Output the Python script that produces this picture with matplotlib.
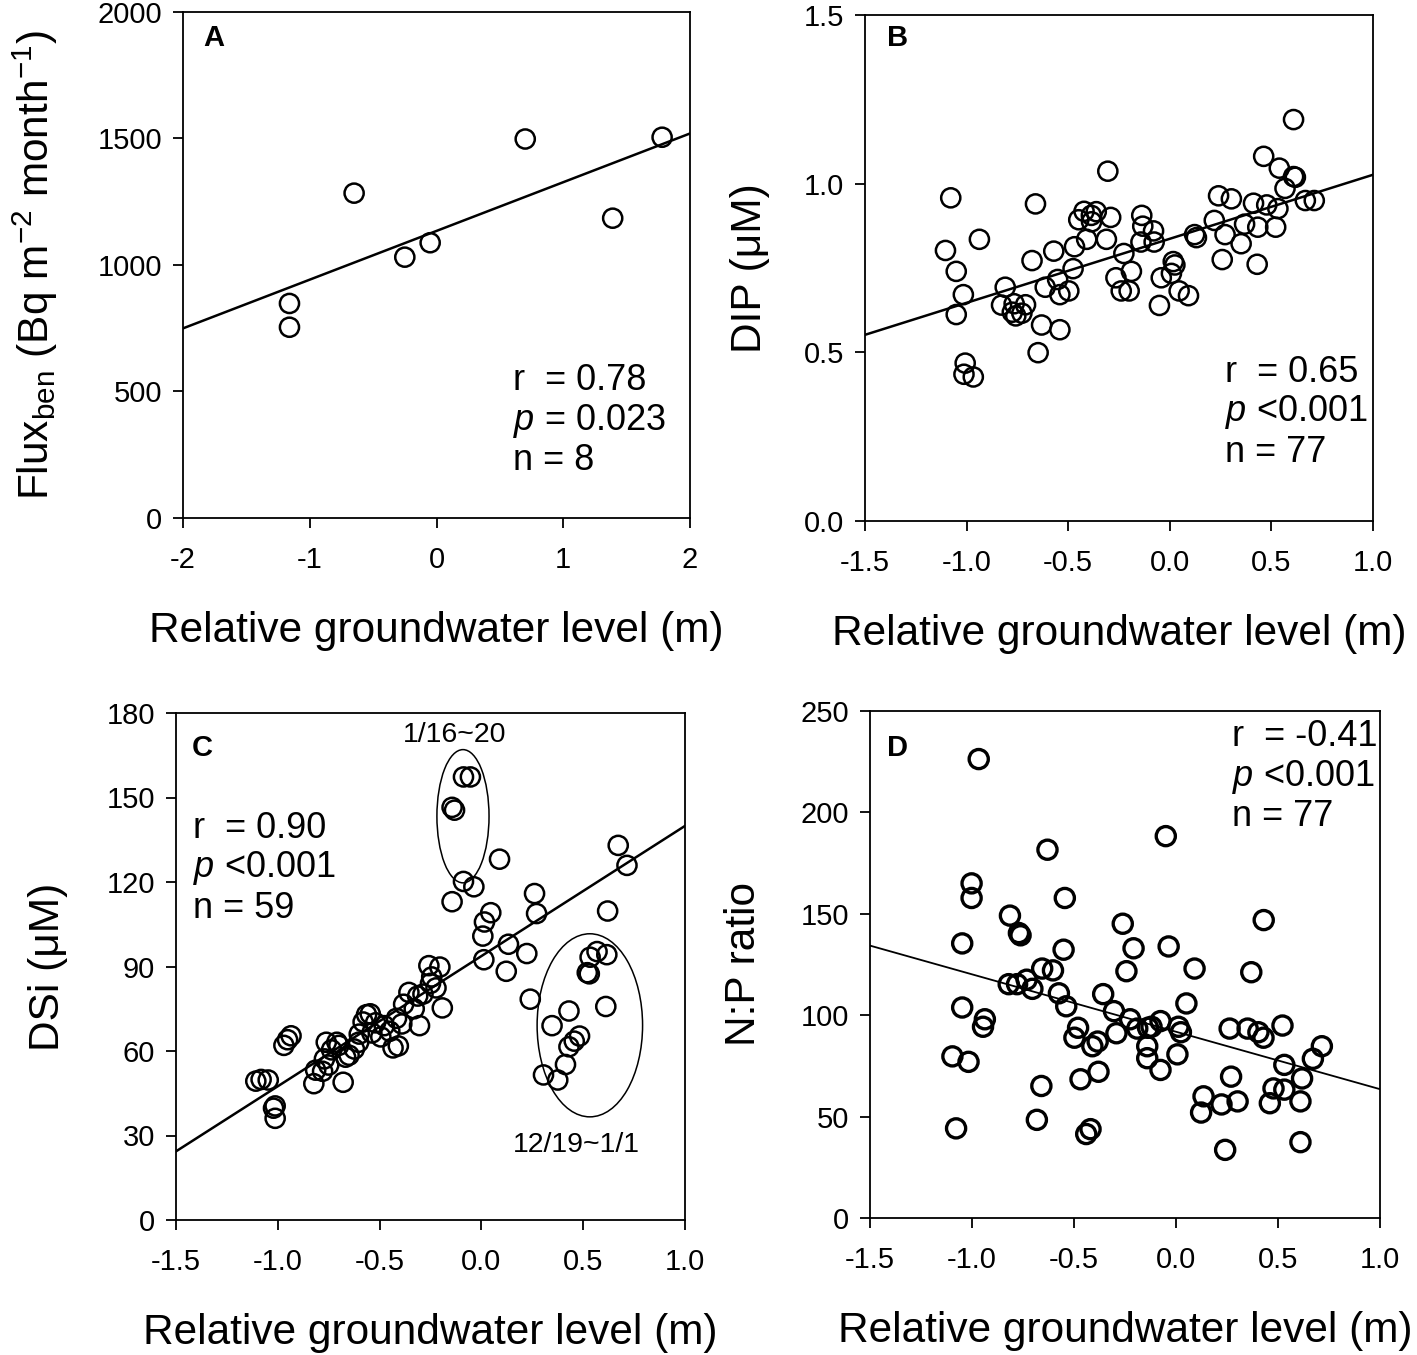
import numpy as np
import matplotlib
matplotlib.use("Agg")
import matplotlib.pyplot as plt
from matplotlib.patches import Ellipse

plt.rcParams["font.family"] = ["Liberation Sans", "DejaVu Sans"]
plt.rcParams["mathtext.fontset"] = "custom"
plt.rcParams["mathtext.rm"] = "Liberation Sans"
plt.rcParams["mathtext.it"] = "Liberation Sans:italic"
plt.rcParams["axes.unicode_minus"] = False

# --- Data ---

# A: benthic flux vs relative groundwater level
a_x = [-1.16, -1.16, -0.65, -0.25, -0.05, 0.70, 1.39, 1.78]
a_y = [848, 754, 1284, 1031, 1088, 1498, 1185, 1505]

# B: DIP
b_x = [-1.078, -1.104, -0.937, -1.051, -1.016, -1.051, -1.007, -1.013, -0.967, -0.810,
       -0.828, -0.766, -0.775, -0.758, -0.710, -0.728, -0.678, -0.661, -0.631, -0.648,
       -0.613, -0.571, -0.552, -0.541, -0.541, -0.497, -0.476, -0.469, -0.448, -0.422,
       -0.386, -0.362, -0.385, -0.409, -0.312, -0.291, -0.305, -0.265, -0.239, -0.200,
       -0.226, -0.189, -0.138, -0.133, -0.142, -0.080, -0.077, -0.042, -0.051, 0.017,
       0.025, 0.008, 0.046, 0.092, 0.122, 0.131, 0.219, 0.240, 0.303, 0.272,
       0.258, 0.351, 0.368, 0.412, 0.433, 0.430, 0.477, 0.462, 0.532, 0.521,
       0.539, 0.567, 0.609, 0.618, 0.609, 0.667, 0.711]
b_y = [0.958, 0.802, 0.835, 0.740, 0.671, 0.612, 0.468, 0.435, 0.427, 0.693,
       0.640, 0.644, 0.619, 0.608, 0.641, 0.616, 0.772, 0.940, 0.581, 0.499,
       0.693, 0.800, 0.716, 0.671, 0.567, 0.682, 0.748, 0.813, 0.893, 0.918,
       0.906, 0.917, 0.887, 0.835, 0.835, 0.900, 1.037, 0.721, 0.682, 0.682,
       0.793, 0.740, 0.906, 0.874, 0.827, 0.860, 0.827, 0.721, 0.639, 0.769,
       0.759, 0.734, 0.682, 0.668, 0.849, 0.840, 0.891, 0.964, 0.955, 0.849,
       0.775, 0.822, 0.880, 0.942, 0.871, 0.761, 0.937, 1.081, 0.926, 0.871,
       1.046, 0.986, 1.021, 1.019, 1.190, 0.950, 0.950]

# C: DSi (points used in the fit)
c_x = [-1.108, -1.082, -1.047, -1.013, -1.021, -1.013, -0.970, -0.952, -0.935, -0.823,
       -0.814, -0.780, -0.771, -0.762, -0.736, -0.710, -0.679, -0.667, -0.650, -0.624,
       -0.603, -0.581, -0.564, -0.546, -0.538, -0.494, -0.477, -0.434, -0.408, -0.417,
       -0.391, -0.382, -0.356, -0.313, -0.304, -0.287, -0.258, -0.244, -0.223, -0.204,
       -0.192, -0.750, -0.700, -0.600, -0.520, -0.450, -0.330, -0.250,
       -0.144, 0.089, 0.007, 0.015, 0.046, 0.012, 0.133, 0.122, 0.223, 0.261,
       0.271, 0.240, 0.620, 0.672, 0.715]
c_y = [49.3, 49.9, 49.7, 40.5, 39.7, 36.1, 62.0, 64.0, 65.4, 48.4,
       53.2, 52.8, 57.2, 63.1, 60.4, 63.1, 48.9, 57.8, 58.5, 60.7,
       63.1, 70.3, 72.9, 73.2, 66.4, 65.0, 69.0, 61.1, 61.8, 71.6,
       69.6, 76.6, 80.8, 79.5, 69.0, 80.2, 90.3, 86.3, 82.4, 89.8,
       75.3, 55.0, 62.0, 66.0, 70.0, 67.0, 75.0, 84.0,
       113.0, 128.1, 100.8, 105.8, 109.1, 92.4, 97.9, 88.3, 94.6, 115.9,
       108.8, 78.4, 109.7, 133.0, 125.9]
# C: circled groups
c_top_x = [-0.088, -0.054, -0.144, -0.132, -0.088, -0.037]
c_top_y = [157.3, 157.3, 146.5, 145.5, 120.2, 118.3]
c_bot_x = [0.305, 0.375, 0.347, 0.413, 0.430, 0.430, 0.456, 0.482, 0.520, 0.530,
           0.534, 0.568, 0.616, 0.611]
c_bot_y = [51.5, 49.7, 69.0, 55.2, 74.2, 61.5, 63.5, 65.3, 87.8, 87.4,
           93.3, 95.3, 94.2, 75.8]

# D: N:P ratio
d_x = [-0.967, -1.002, -1.002, -1.048, -1.048, -1.096, -1.017, -1.078, -0.937, -0.946,
       -0.814, -0.770, -0.762, -0.820, -0.779, -0.732, -0.704, -0.656, -0.603, -0.630,
       -0.545, -0.551, -0.574, -0.538, -0.480, -0.498, -0.660, -0.682, -0.468, -0.419,
       -0.440, -0.384, -0.410, -0.380, -0.357, -0.304, -0.292, -0.261, -0.208, -0.243,
       -0.225, -0.190, -0.137, -0.141, -0.141, -0.076, -0.076, -0.120, -0.050, -0.036,
       0.012, 0.024, 0.007, 0.051, 0.091, 0.135, 0.123, 0.223, 0.241, 0.263,
       0.270, 0.302, 0.351, 0.369, 0.404, 0.429, 0.430, 0.460, 0.478, 0.522,
       0.531, 0.531, 0.618, 0.610, 0.610, 0.671, 0.715]
d_y = [226.3, 165.0, 157.8, 135.4, 103.8, 79.7, 77.0, 44.2, 98.0, 94.3,
       149.1, 140.5, 139.4, 115.3, 115.3, 117.5, 113.0, 123.0, 122.1, 181.6,
       157.8, 132.3, 110.8, 104.4, 93.8, 88.9, 65.1, 48.4, 68.4, 43.8,
       41.4, 87.0, 84.7, 72.1, 110.4, 102.0, 91.1, 145.1, 133.0, 121.7,
       98.0, 93.4, 93.8, 84.7, 78.8, 73.0, 97.1, 94.3, 188.3, 133.9,
       94.3, 91.6, 80.7, 105.8, 123.0, 60.0, 52.0, 56.0, 33.6, 93.4,
       69.7, 57.5, 93.4, 121.2, 91.6, 88.9, 146.9, 56.6, 63.9, 94.9,
       75.5, 63.3, 68.8, 57.5, 37.4, 78.5, 84.7]

XLABEL = "Relative groundwater level (m)"

FS_TICK  = 21
FS_LABEL = 30.5
FS_STAT  = 26
FS_PANEL = 21
FS_NOTE  = 20.5

W, H = 1417, 1355


def px_rect(left, top, right, bottom):
    return [left / W, 1 - bottom / H, (right - left) / W, (bottom - top) / H]


def style_axes(ax):
    for sp in ax.spines.values():
        sp.set_linewidth(1.3)
    ax.tick_params(direction="out", length=7, width=1.3, labelsize=FS_TICK,
                   top=False, right=False)
    ax.tick_params(axis="x", pad=13)
    ax.tick_params(axis="y", pad=8)
    ax.set_xlabel(XLABEL, fontsize=FS_LABEL, labelpad=27)


def scatter(ax, x, y, lw=1.8):
    ax.scatter(x, y, s=190, facecolors="none", edgecolors="black",
               linewidths=lw, zorder=3, clip_on=False)


def fit_line(ax, x, y, lw=1.8):
    k, b = np.polyfit(x, y, 1)
    xs = np.array(ax.get_xlim())
    ax.plot(xs, k * xs + b, color="black", lw=lw, zorder=2)


def stats(ax, x, y0, r, p, n, dy=0.079):
    ax.text(x, y0, f"r  = {r}", transform=ax.transAxes, fontsize=FS_STAT, va="center")
    ax.text(x, y0 - dy, f"$p$ {p}", transform=ax.transAxes, fontsize=FS_STAT, va="center")
    ax.text(x, y0 - 2 * dy, f"n = {n}", transform=ax.transAxes, fontsize=FS_STAT, va="center")


def panel(ax, letter, x, y):
    ax.text(x, y, letter, transform=ax.transAxes, fontsize=FS_PANEL,
            fontweight="bold", va="center")


fig = plt.figure(figsize=(W / 100, H / 100), dpi=100)

# A
ax = fig.add_axes(px_rect(183, 12, 690, 518))
ax.set_xlim(-2, 2)
ax.set_ylim(0, 2000)
ax.set_xticks([-2, -1, 0, 1, 2])
ax.set_yticks([0, 500, 1000, 1500, 2000])
style_axes(ax)
fit_line(ax, a_x, a_y)
scatter(ax, a_x, a_y)
ax.set_ylabel("Flux$_{\\mathrm{ben}}$ (Bq m$^{-2}$ month$^{-1}$)", fontsize=FS_LABEL, labelpad=27)
stats(ax, 0.651, 0.271, "0.78", "= 0.023", "8")
panel(ax, "A", 0.04, 0.949)

# B
ax = fig.add_axes(px_rect(865, 15, 1373, 521))
ax.set_xlim(-1.5, 1.0)
ax.set_ylim(0, 1.5)
ax.set_xticks([-1.5, -1.0, -0.5, 0.0, 0.5, 1.0])
ax.set_yticks([0.0, 0.5, 1.0, 1.5])
ax.xaxis.set_major_formatter("{x:.1f}")
ax.yaxis.set_major_formatter("{x:.1f}")
style_axes(ax)
fit_line(ax, b_x, b_y)
scatter(ax, b_x, b_y)
ax.set_ylabel("DIP (\u03bcM)", fontsize=FS_LABEL, labelpad=24)
stats(ax, 0.709, 0.294, "0.65", "<0.001", "77")
panel(ax, "B", 0.043, 0.955)

# C
ax = fig.add_axes(px_rect(176, 713, 685, 1220))
ax.set_xlim(-1.5, 1.0)
ax.set_ylim(0, 180)
ax.set_xticks([-1.5, -1.0, -0.5, 0.0, 0.5, 1.0])
ax.set_yticks(range(0, 181, 30))
ax.xaxis.set_major_formatter("{x:.1f}")
style_axes(ax)
fit_line(ax, c_x, c_y)
scatter(ax, c_x, c_y)
scatter(ax, c_top_x, c_top_y)
scatter(ax, c_bot_x, c_bot_y)
ax.add_patch(Ellipse((np.mean(c_top_x), np.mean(c_top_y) + 2.5), 0.256, 47.3,
                     fill=False, lw=1.1, color="black"))
ax.add_patch(Ellipse((np.mean(c_bot_x) + 0.06, np.mean(c_bot_y) - 4), 0.518, 65,
                     fill=False, lw=1.1, color="black"))
ax.text(-0.13, 172.2, "1/16~20", fontsize=FS_NOTE, ha="center", va="center")
ax.text(0.465, 26.6, "12/19~1/1", fontsize=FS_NOTE, ha="center", va="center")
ax.set_ylabel("DSi (\u03bcM)", fontsize=FS_LABEL, labelpad=28)
stats(ax, 0.033, 0.773, "0.90", "<0.001", "59")
panel(ax, "C", 0.03, 0.93)

# D
ax = fig.add_axes(px_rect(870, 711, 1380, 1218))
ax.set_xlim(-1.5, 1.0)
ax.set_ylim(0, 250)
ax.set_xticks([-1.5, -1.0, -0.5, 0.0, 0.5, 1.0])
ax.set_yticks(range(0, 251, 50))
ax.xaxis.set_major_formatter("{x:.1f}")
style_axes(ax)
fit_line(ax, d_x, d_y, lw=1.3)
scatter(ax, d_x, d_y, lw=2.4)
ax.set_ylabel("N:P ratio", fontsize=FS_LABEL, labelpad=26)
stats(ax, 0.71, 0.949, "-0.41", "<0.001", "77")
panel(ax, "D", 0.033, 0.927)

fig.savefig("out.png", dpi=100)
